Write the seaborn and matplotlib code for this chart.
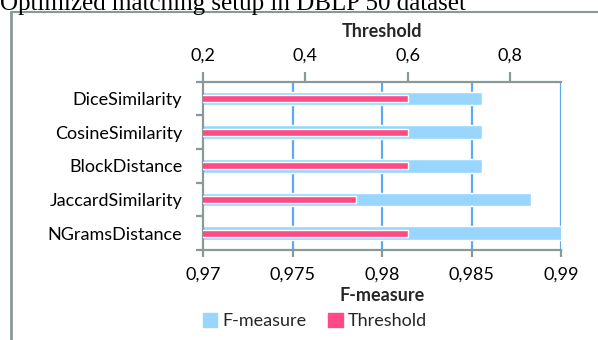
import matplotlib
matplotlib.use("Agg")
import matplotlib.pyplot as plt
import seaborn as sns
import pandas as pd
from matplotlib.lines import Line2D
from matplotlib.patches import Patch

categories = ["DiceSimilarity", "CosineSimilarity", "BlockDistance",
              "JaccardSimilarity", "NGramsDistance"]
f_measure = [0.9856, 0.9856, 0.9856, 0.9883, 0.9901]
threshold = [0.6, 0.6, 0.6, 0.5, 0.6]
f_ticks = [0.97, 0.975, 0.98, 0.985, 0.99]
f_ticklabels = ["0,97", "0,975", "0,98", "0,985", "0,99"]
t_ticks = [0.2, 0.4, 0.6, 0.8]
t_ticklabels = ["0,2", "0,4", "0,6", "0,8"]
title = "Optimized matching setup in DBLP 50 dataset"

df = pd.DataFrame({"cat": categories, "F-measure": f_measure, "Threshold": threshold})

sns.set_theme(style="white")
plt.rcParams["font.family"] = ["Lato", "DejaVu Sans"]

BLUE = "#99D6FD"
PINK = "#FF4A85"
GRID = "#5EA9F2"
GREY = "#8A9898"
FS = 13

fig = plt.figure(figsize=(5.98, 3.40), dpi=100)
ax = fig.add_axes([203 / 598, 1 - 250 / 340, (561 - 203) / 598, (250 - 81.7) / 340])

sns.barplot(data=df, y="cat", x="F-measure", orient="h", color=BLUE,
            width=0.4, ax=ax, saturation=1, zorder=2)
ax.set_xlim(0.97, 0.99)
ax.set_ylim(4.5, -0.5)

ax2 = ax.twiny()
sns.barplot(data=df, y="cat", x="Threshold", orient="h", color=PINK,
            width=0.21, ax=ax2, saturation=1, zorder=3)
ax2.set_xlim(0.2, 0.9)
ax2.set_ylim(4.5, -0.5)

# gridlines
for v in f_ticks[1:]:
    ax.axvline(v, color=GRID, lw=1.6, zorder=1)

for a in (ax, ax2):
    for s in a.spines.values():
        s.set_visible(False)
    a.set_ylabel("")
    a.grid(False)

ax.spines["left"].set_visible(True)
ax.spines["left"].set_color(GREY)
ax.spines["left"].set_linewidth(1.6)
ax.spines["bottom"].set_visible(True)
ax.spines["bottom"].set_color(GREY)
ax.spines["bottom"].set_linewidth(1.6)
ax2.spines["top"].set_visible(True)
ax2.spines["top"].set_color(GREY)
ax2.spines["top"].set_linewidth(1.6)

ax.set_xticks(f_ticks)
ax.set_xticklabels(f_ticklabels)
ax.tick_params(axis="x", bottom=True, direction="out", length=5, width=1.6,
               color=GREY, labelsize=FS, pad=7, labelcolor="black")
ax.set_xlabel("F-measure", fontsize=FS, fontweight="bold", labelpad=3)

ax2.set_xticks(t_ticks)
ax2.set_xticklabels(t_ticklabels)
ax2.tick_params(axis="x", top=True, direction="out", length=7, width=1.6,
                color=GREY, labelsize=FS, pad=6, labelcolor="black")
ax2.set_xlabel("Threshold", fontsize=FS, fontweight="bold", labelpad=8)

ax.set_yticks(range(len(categories)))
ax.set_yticklabels(categories)
ax.tick_params(axis="y", which="major", left=False, labelsize=FS, pad=9,
               labelcolor="black")
ax.set_yticks([i - 0.5 for i in range(len(categories) + 1)], minor=True)
ax.tick_params(axis="y", which="minor", left=True, direction="out", length=5,
               width=1.6, color=GREY)
ax2.tick_params(axis="y", left=False, right=False, labelleft=False, labelright=False)

# legend
handles = [Patch(color=BLUE, label="F-measure"), Patch(color=PINK, label="Threshold")]
fig.legend(handles=handles, loc="center", bbox_to_anchor=(315 / 598, 1 - 321 / 340),
           ncol=2, frameon=False, fontsize=FS, handlelength=0.8, handleheight=0.8,
           handletextpad=0.3, columnspacing=1.2)

# chart frame
fig.add_artist(Line2D([10.5 / 598, 10.5 / 598], [0, 1 - 12 / 340],
                      transform=fig.transFigure, color=GREY, lw=2))
fig.add_artist(Line2D([10.5 / 598, 1], [1 - 12 / 340, 1 - 12 / 340],
                      transform=fig.transFigure, color=GREY, lw=1.5))
fig.text(0.0, 1 - 10 / 340, title, fontsize=18, family=["Liberation Serif"],
         ha="left", va="baseline", color="black")

fig.savefig("out.png", dpi=100)
